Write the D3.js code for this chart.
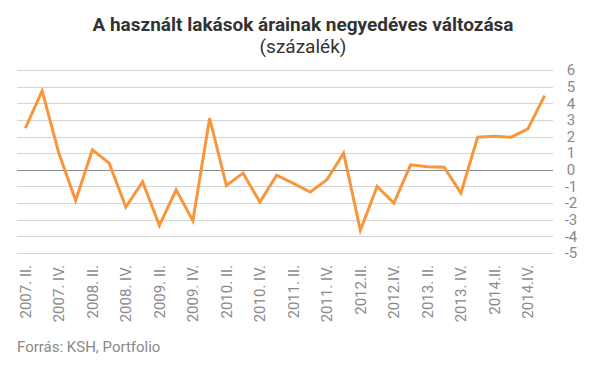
<!DOCTYPE html>
<html><head><meta charset="utf-8">
<script src="https://cdn.jsdelivr.net/npm/d3@7"></script>
<style>body{margin:0;background:#fff;} text{font-family:Roboto,"Open Sans",sans-serif;}</style>
</head><body><svg id="c" width="607" height="380"></svg>
<script>
const categories = ["2007. II.","2007. III.","2007. IV.","2008. I.","2008. II.","2008. III.","2008. IV.","2009. I.",
"2009. II.","2009. III.","2009. IV.","2010. I.","2010. II.","2010. III.","2010. IV.","2011. I.",
"2011. II.","2011. III.","2011. IV.","2012. I.","2012.II.","2012. III.","2012.IV.","2013. I.",
"2013. II.","2013. III.","2013. IV.","2014. I.","2014.II.","2014. III.","2014.IV.","2015. I."];
const values = [2.5,4.74,1.0,-1.84,1.2,0.4,-2.24,-0.72,-3.34,-1.2,-3.06,3.1,-0.94,-0.2,-1.94,-0.32,
-0.82,-1.34,-0.6,1.0,-3.64,-1.0,-2.0,0.3,0.18,0.16,-1.4,1.96,2.02,1.96,2.46,4.46];
const xTickLabels = ["2007. II.","2007. IV.","2008. II.","2008. IV.","2009. II.","2009. IV.","2010. II.","2010. IV.",
"2011. II.","2011. IV.","2012.II.","2012.IV.","2013. II.","2013. IV.","2014.II.","2014.IV."];
const yTicks = [-5,-4,-3,-2,-1,0,1,2,3,4,5,6];
const title = "A használt lakások árainak negyedéves változása";
const subtitle = "(százalék)";
const source = "Forrás: KSH, Portfolio";

const svg = d3.select("#c");
const x = d3.scaleBand().domain(categories).range([17,553]).padding(0);
const y = d3.scaleLinear().domain([-5,6]).range([253,70]);

// gridlines
svg.append("g").selectAll("line").data(yTicks).join("line")
  .attr("x1",17).attr("x2",553)
  .attr("y1",d=>Math.round(y(d))+0.5).attr("y2",d=>Math.round(y(d))+0.5)
  .attr("stroke",d=>d===0?"#8c8c8c":"#d4d4d4").attr("stroke-width",1);

// y labels
svg.append("g").selectAll("text").data(yTicks).join("text")
  .attr("x",571).attr("y",d=>y(d)).attr("dy","0.35em")
  .attr("text-anchor","middle").attr("fill","#8a8a8a").attr("font-size",15)
  .text(d=>d);

// x labels
svg.append("g").selectAll("text").data(xTickLabels).join("text")
  .attr("transform",d=>`translate(${x(d)+x.bandwidth()/2},265) rotate(-90)`)
  .attr("dy","0.35em").attr("text-anchor","end")
  .attr("fill","#8a8a8a").attr("font-size",15)
  .text(d=>d);

// line
const line = d3.line().x((d,i)=>x(categories[i])+x.bandwidth()/2).y(d=>y(d));
svg.append("path").datum(values).attr("d",line)
  .attr("fill","none").attr("stroke","#f7963c").attr("stroke-width",3)
  .attr("stroke-linejoin","miter");

svg.append("text").attr("x",303).attr("y",31).attr("text-anchor","middle")
  .attr("font-size",19).attr("font-weight","bold").attr("fill","#333")
  .text(title);
svg.append("text").attr("x",303).attr("y",53).attr("text-anchor","middle")
  .attr("font-size",19).attr("fill","#333").text(subtitle);
svg.append("text").attr("x",17).attr("y",352)
  .attr("font-size",15).attr("fill","#8a8a8a").text(source);
</script></body></html>
